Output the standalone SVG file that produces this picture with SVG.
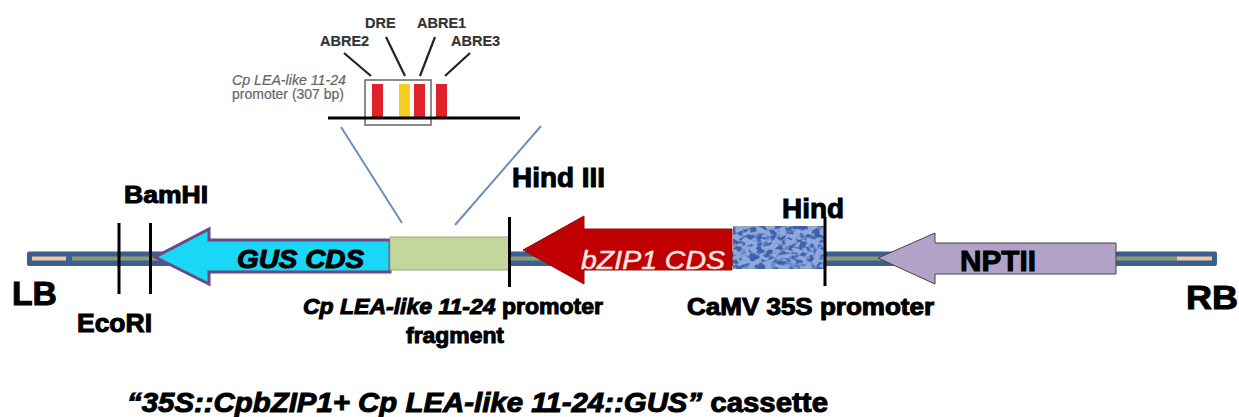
<svg xmlns="http://www.w3.org/2000/svg" width="1239" height="417" viewBox="0 0 1239 417">
<style>
text{font-family:"Liberation Sans",Arial,sans-serif;font-weight:bold;fill:#000;stroke:#000;stroke-width:1}
.s{fill:#333;stroke:#333;stroke-width:.2;font-size:14.5px}
.g{fill:#666;stroke:#666;stroke-width:.2;font-size:14px;font-weight:normal}
.cut{stroke:#000;stroke-width:3;fill:none}
.ptr{stroke:#222;stroke-width:2.200;fill:none}
.zoomline{stroke:#6d8fb8;stroke-width:2;fill:none}
.site{stroke:none}
</style>
<defs>
<filter id="noise" x="0" y="0" width="100%" height="100%" color-interpolation-filters="sRGB">
<feTurbulence type="fractalNoise" baseFrequency="0.14 0.2" numOctaves="2" seed="4" result="n"/>
<feColorMatrix in="n" type="matrix" values="0 0 0 0 0.24  0 0 0 0 0.38  0 0 0 0 0.68  4 4 0 0 -3.700" result="dark"/>
<feMerge><feMergeNode in="SourceGraphic"/><feMergeNode in="dark"/></feMerge>
</filter>
</defs>
<g id="connectors">
<path class="zoomline" d="M341 127L402 223M541 126L455 225"/>
<path class="ptr" d="M344 53L371 76M386 37L405 76M435 37L420 76M470 53L445 76"/>
</g>
<g id="backbone">
<rect x="27" y="251.500" width="1190" height="14.500" rx="2" fill="#3b5f8f"/>
<rect x="72" y="256.500" width="1105" height="4" fill="#8f9a72"/>
<rect x="32" y="256.500" width="34" height="4" fill="#f2c8a0"/>
<rect x="1177" y="256.500" width="35" height="4" fill="#f2c8a0"/>
</g>
<g id="promoter-detail">
<rect x="365" y="80" width="66" height="45" fill="none" stroke="#666" stroke-width="1.500"/>
<rect class="site" x="372" y="84" width="11" height="34" fill="#e0232b"/>
<rect class="site" x="399" y="84" width="11" height="34" fill="#f5cf1f"/>
<rect class="site" x="414" y="84" width="11" height="34" fill="#e0232b"/>
<rect class="site" x="436" y="84" width="11" height="34" fill="#e0232b"/>
<rect x="328" y="116.500" width="192" height="3" fill="#000"/>
<text class="s" x="320" y="45.500">ABRE2</text>
<text class="s" x="365" y="28">DRE</text>
<text class="s" x="417" y="28">ABRE1</text>
<text class="s" x="451" y="45.500">ABRE3</text>
<text class="g" x="232" y="85" font-style="italic" textLength="114" lengthAdjust="spacingAndGlyphs">Cp LEA-like 11-24</text>
<text class="g" x="232" y="99" textLength="112" lengthAdjust="spacingAndGlyphs">promoter (307 bp)</text>
</g>
<g id="gus">
<path d="M155 257L209 229V240H390V272H209V284Z" fill="#19d7f5" stroke="#6a4a86" stroke-width="3"/>
<text x="237" y="268" font-size="25" font-style="italic" textLength="127" lengthAdjust="spacingAndGlyphs">GUS CDS</text>
</g>
<g id="lea-fragment">
<rect x="390" y="237" width="119" height="33" fill="#c3d69b" stroke="#9aa87a"/>
</g>
<g id="bzip1">
<path d="M523 250L584 216V229H732V270H584V284Z" fill="#c00000" stroke="#8e1010"/>
<text x="581" y="269" font-size="26" font-style="italic" textLength="144" lengthAdjust="spacingAndGlyphs" style="fill:#fbe8e0;stroke:#fbe8e0;stroke-width:.5;font-weight:normal">bZIP1 CDS</text>
</g>
<g id="camv35s">
<rect x="733.500" y="226" width="91.500" height="43" fill="#8fa9dc" stroke="#8fae8a" filter="url(#noise)"/>
</g>
<g id="nptii">
<path d="M878 258L935 233V243H1116V274H935V284Z" fill="#b3a2c7" stroke="#444"/>
<text x="960" y="271" font-size="30" textLength="76" lengthAdjust="spacingAndGlyphs">NPTII</text>
</g>
<g id="sites">
<path class="cut" d="M119 223V294M150.500 223V294M509.500 217V287M825 217V286"/>
<text x="124" y="203" font-size="23.500" textLength="84" lengthAdjust="spacingAndGlyphs">BamHI</text>
<text x="77" y="332" font-size="25" textLength="75" lengthAdjust="spacingAndGlyphs">EcoRI</text>
<text x="512" y="187" font-size="27" textLength="93" lengthAdjust="spacingAndGlyphs">Hind III</text>
<text x="782" y="218" font-size="28" textLength="62" lengthAdjust="spacingAndGlyphs">Hind</text>
</g>
<g id="labels">
<text x="12" y="305" font-size="33" textLength="45" lengthAdjust="spacingAndGlyphs">LB</text>
<text x="1186" y="309" font-size="34" textLength="52" lengthAdjust="spacingAndGlyphs">RB</text>
<text x="303" y="314" font-size="22" textLength="300" lengthAdjust="spacingAndGlyphs"><tspan font-style="italic">Cp LEA-like 11-24</tspan> promoter</text>
<text x="406" y="343" font-size="22" textLength="98" lengthAdjust="spacingAndGlyphs">fragment</text>
<text x="687" y="315" font-size="23" textLength="247" lengthAdjust="spacingAndGlyphs">CaMV 35S promoter</text>
<text x="127" y="412" font-size="28" textLength="701" lengthAdjust="spacingAndGlyphs"><tspan font-style="italic">“35S::CpbZIP1+ Cp LEA-like 11-24::GUS”</tspan> cassette</text>
</g>
</svg>
